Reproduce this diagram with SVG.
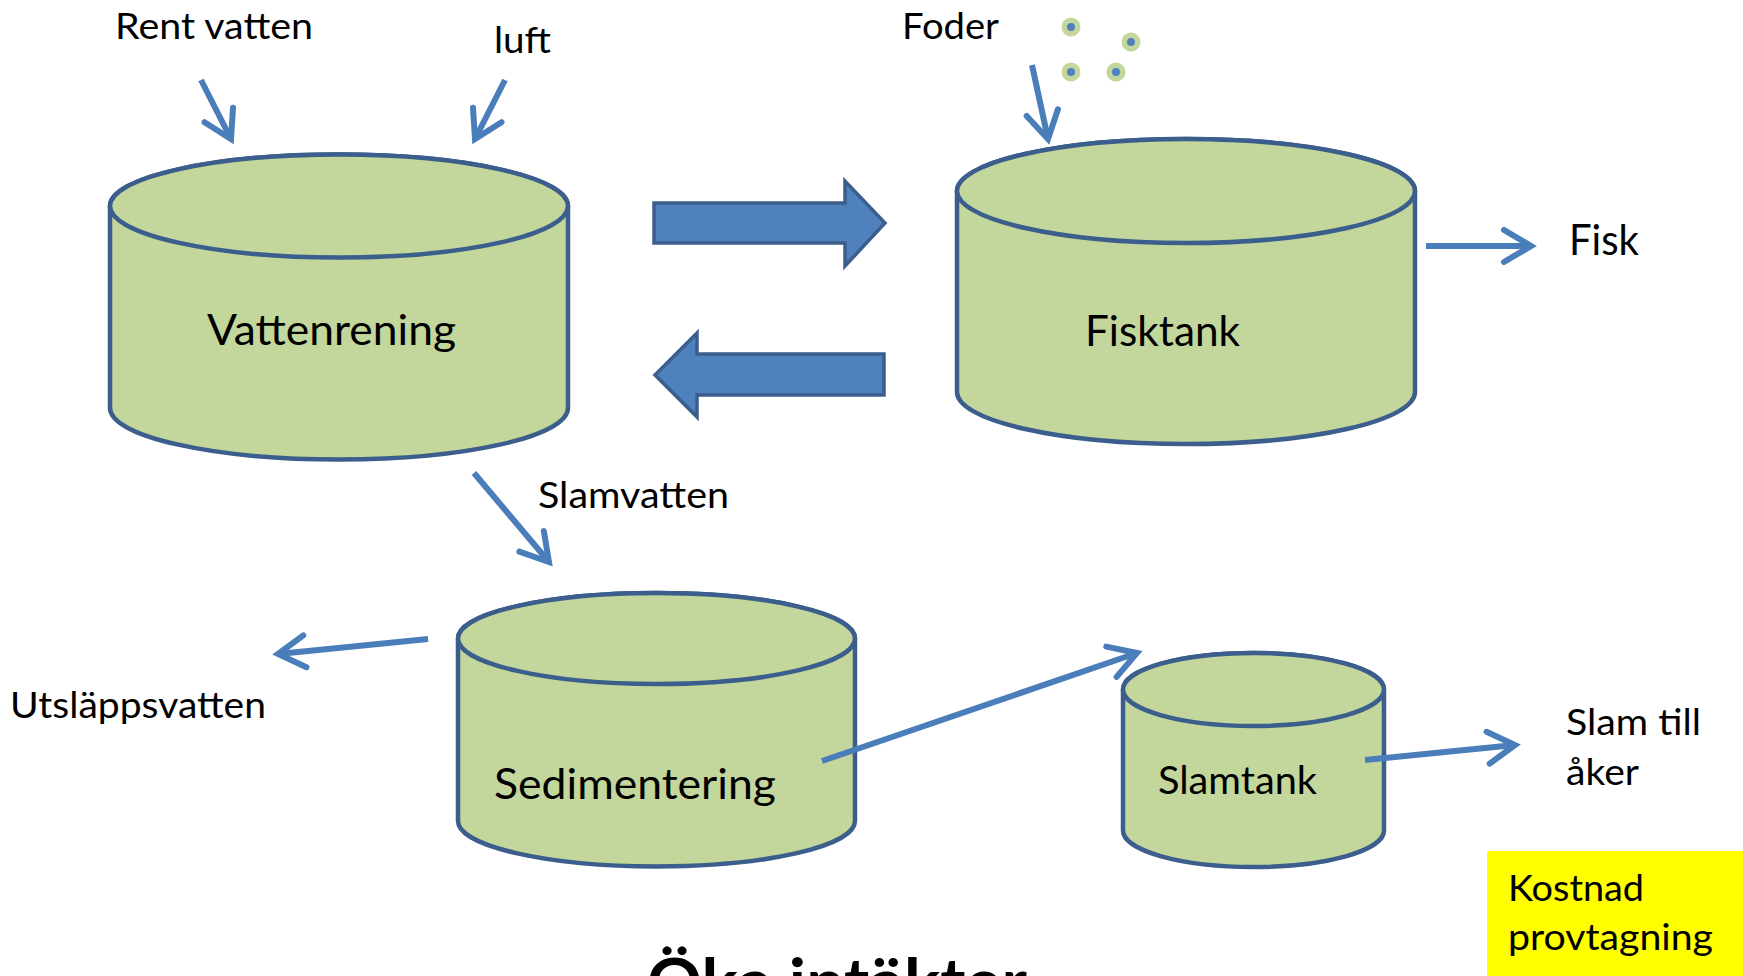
<svg xmlns="http://www.w3.org/2000/svg" width="1743" height="976" viewBox="0 0 1743 976">
<style>
.cyl{fill:#C3D69B;stroke:#3B5E8C;stroke-width:4.5}
.lbl{font-family:Lato,"Open Sans",sans-serif;fill:#000}
.s36{font-size:36px}
.s42{font-size:42.5px}
.con{fill:none;stroke:#4A7EBB;stroke-width:6;marker-end:url(#oa)}
.blk{fill:#4F81BD;stroke:#3B5E8C;stroke-width:3.5;stroke-linejoin:miter}
</style>
<defs>
<marker id="oa" markerUnits="userSpaceOnUse" markerWidth="50" markerHeight="50" viewBox="-35 -25 50 50" refX="0" refY="0" orient="auto" overflow="visible">
<path d="M-27,-16 L0,0 L-27,16" fill="none" stroke="#4A7EBB" stroke-width="6" stroke-linecap="round" stroke-linejoin="miter"/>
</marker>
</defs>
<rect width="1743" height="976" fill="#fff"/>

<g id="vattenrening">
<path class="cyl" d="M110,206 L110,408 A229 51.5 0 0 0 568,408 L568,206 A229 51.5 0 0 0 110,206 Z"/>
<ellipse class="cyl" cx="339" cy="206" rx="229" ry="51.5"/>
<text class="lbl s42" x="207" y="345" textLength="249" lengthAdjust="spacingAndGlyphs">Vattenrening</text>
</g>

<g id="fisktank">
<path class="cyl" d="M957,191 L957,392 A229 52 0 0 0 1415,392 L1415,191 A229 52 0 0 0 957,191 Z"/>
<ellipse class="cyl" cx="1186" cy="191" rx="229" ry="52"/>
<text class="lbl s42" x="1085" y="346" textLength="155" lengthAdjust="spacingAndGlyphs">Fisktank</text>
</g>

<g id="sedimentering">
<path class="cyl" d="M458,638.5 L458,821 A198.5 45.5 0 0 0 855,821 L855,638.5 A198.5 45.5 0 0 0 458,638.5 Z"/>
<ellipse class="cyl" cx="656.5" cy="638.5" rx="198.5" ry="45.5"/>
<text class="lbl s42" x="494" y="799" textLength="282" lengthAdjust="spacingAndGlyphs">Sedimentering</text>
</g>

<g id="slamtank">
<path class="cyl" d="M1123,689.5 L1123,830.5 A130.5 36.5 0 0 0 1384,830.5 L1384,689.5 A130.5 36.5 0 0 0 1123,689.5 Z"/>
<ellipse class="cyl" cx="1253.5" cy="689.5" rx="130.5" ry="36.5"/>
<text class="lbl" style="font-size:38px" x="1158" y="794" textLength="159" lengthAdjust="spacingAndGlyphs">Slamtank</text>
</g>

<g id="foder-pellets">
<circle cx="1071" cy="27" r="9.5" fill="#C3D69B"/><circle cx="1071" cy="27" r="4" fill="#4F81BD"/>
<circle cx="1131" cy="42" r="9.5" fill="#C3D69B"/><circle cx="1131" cy="42" r="4" fill="#4F81BD"/>
<circle cx="1071" cy="72" r="9.5" fill="#C3D69B"/><circle cx="1071" cy="72" r="4" fill="#4F81BD"/>
<circle cx="1116" cy="72" r="9.5" fill="#C3D69B"/><circle cx="1116" cy="72" r="4" fill="#4F81BD"/>
</g>

<g id="connectors">
<polygon class="blk" points="654,203 845,203 845,181 885,223 845,266 845,243 654,243"/>
<polygon class="blk" points="655,375 697,333 697,354 884,354 884,395 697,395 697,417"/>
<line class="con" x1="201" y1="80" x2="231" y2="139"/>
<line class="con" x1="505" y1="80" x2="475" y2="139"/>
<line class="con" x1="1032" y1="65" x2="1048" y2="139"/>
<line class="con" x1="1426" y1="246" x2="1531" y2="246"/>
<line class="con" x1="474" y1="473" x2="549" y2="562"/>
<line class="con" x1="428" y1="639" x2="278" y2="654"/>
<line class="con" x1="822" y1="761" x2="1137" y2="653"/>
<line class="con" x1="1365" y1="760" x2="1515" y2="745"/>
</g>

<g id="labels">
<text class="lbl s36" x="115" y="39" textLength="198" lengthAdjust="spacingAndGlyphs">Rent vatten</text>
<text class="lbl s36" x="494" y="53" textLength="57" lengthAdjust="spacingAndGlyphs">luft</text>
<text class="lbl s36" x="902" y="39" textLength="97" lengthAdjust="spacingAndGlyphs">Foder</text>
<text class="lbl" style="font-size:43px" x="1569" y="255" textLength="70" lengthAdjust="spacingAndGlyphs">Fisk</text>
<text class="lbl s36" x="538" y="508" textLength="191" lengthAdjust="spacingAndGlyphs">Slamvatten</text>
<text class="lbl s36" x="10" y="718" textLength="256" lengthAdjust="spacingAndGlyphs">Utsläppsvatten</text>
<text class="lbl s36" x="1566" y="735" textLength="135" lengthAdjust="spacingAndGlyphs">Slam till</text>
<text class="lbl s36" x="1566" y="785" textLength="73" lengthAdjust="spacingAndGlyphs">åker</text>
</g>

<g id="kostnad">
<rect x="1487" y="851" width="256" height="125" fill="#FFFF00"/>
<text class="lbl s36" x="1508" y="901" textLength="136" lengthAdjust="spacingAndGlyphs">Kostnad</text>
<text class="lbl s36" x="1508" y="950" textLength="205" lengthAdjust="spacingAndGlyphs">provtagning</text>
</g>

<g id="title">
<text class="lbl" style="font-size:65px;font-weight:bold" x="647" y="1005" textLength="380" lengthAdjust="spacingAndGlyphs">Öka intäkter</text>
</g>
</svg>
